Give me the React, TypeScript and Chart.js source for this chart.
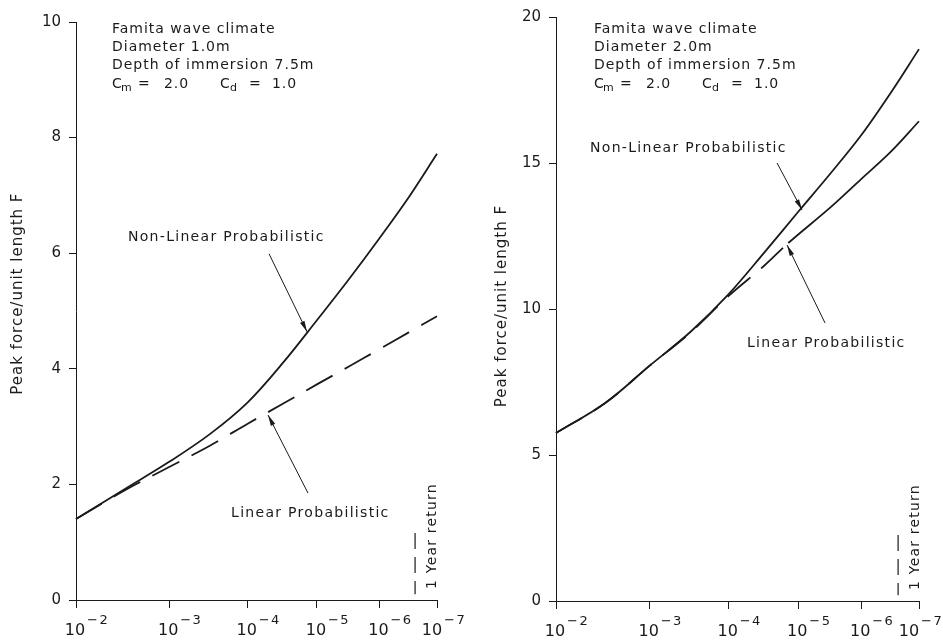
import React, { useEffect, useRef } from 'react';
import { Chart, registerables } from 'chart.js';

Chart.register(...registerables);

// Probability of exceedance p = 10^-k ; x axis is a Rayleigh probability scale (sqrt(-ln p))
const TICK_EXPONENTS = [2, 3, 4, 5, 6, 7];
const CURVE_EXPONENTS = [2, 2.5, 3, 3.5, 4, 4.5, 5, 5.5, 6, 6.5, 7];

const LEFT_NON_LINEAR = [1.4, 1.92, 2.39, 2.87, 3.42, 4.11, 4.84, 5.55, 6.26, 6.97, 7.72];
const LEFT_LINEAR = [1.4, 1.9, 2.3, 2.67, 3.05, 3.4, 3.73, 4.04, 4.34, 4.63, 4.91];

const RIGHT_NON_LINEAR = [5.75, 6.78, 8.06, 9.22, 10.51, 11.94, 13.33, 14.64, 15.95, 17.4, 18.9];
const RIGHT_LINEAR_EXPONENTS = [2, 2.5, 3, 3.5, 4, 4.5, 4.85, 5.5, 6, 6.5, 7];
const RIGHT_LINEAR = [5.75, 6.78, 8.06, 9.2, 10.45, 11.49, 12.26, 13.48, 14.45, 15.38, 16.43];

const LEFT_INFO = ['Famita wave climate', 'Diameter 1.0m', 'Depth of immersion 7.5m'];
const RIGHT_INFO = ['Famita wave climate', 'Diameter 2.0m', 'Depth of immersion 7.5m'];
const COEFF_CM = '2.0';
const COEFF_CD = '1.0';
const Y_TITLE = 'Peak force/unit length F';
const NL_LABEL = 'Non-Linear Probabilistic';
const L_LABEL = 'Linear Probabilistic';
const ONE_YEAR_LABEL = '1 Year return';

const FONT = '"DejaVu Sans", sans-serif';
const INK = '#1a1a1a';

const rx = (k: number) => Math.sqrt(k * Math.LN10);

type Pt = { k: number; v: number };

interface PanelSpec {
  width: number;
  pad: { top: number; right: number };
  yWidth: number;
  xHeight: number;
  yMax: number;
  yStep: number;
  nonLinear: number[];
  nonLinearK: number[];
  linear: number[];
  linearK: number[];
  dashUntilK: number;
  info: string[];
  infoAt: Pt;
  nlLabelAt: Pt;
  nlArrow: [Pt, Pt];
  lLabelAt: Pt;
  lArrow: [Pt, Pt];
  oneYear: { k: number; from: number; to: number };
  titleOffset: number;
  titleCenter: number;
  lastLabelShift: number;
}

const LEFT: PanelSpec = {
  width: 471,
  pad: { top: 22, right: 34 },
  yWidth: 76,
  xHeight: 42,
  yMax: 10,
  yStep: 2,
  nonLinear: LEFT_NON_LINEAR,
  nonLinearK: CURVE_EXPONENTS,
  linear: LEFT_LINEAR,
  linearK: CURVE_EXPONENTS,
  dashUntilK: 7,
  info: LEFT_INFO,
  infoAt: { k: 2.362, v: 9.88 },
  nlLabelAt: { k: 2.533, v: 6.28 },
  nlArrow: [{ k: 4.296, v: 5.99 }, { k: 4.851, v: 4.64 }],
  lLabelAt: { k: 3.776, v: 1.505 },
  lArrow: [{ k: 4.865, v: 1.85 }, { k: 4.282, v: 3.2 }],
  oneYear: { k: 6.61, from: 0.1, to: 1.16 },
  titleOffset: 58,
  titleCenter: 5.3,
  lastLabelShift: -4,
};

const RIGHT: PanelSpec = {
  width: 472,
  pad: { top: 17, right: 24 },
  yWidth: 85,
  xHeight: 41,
  yMax: 20,
  yStep: 5,
  nonLinear: RIGHT_NON_LINEAR,
  nonLinearK: CURVE_EXPONENTS,
  linear: RIGHT_LINEAR,
  linearK: RIGHT_LINEAR_EXPONENTS,
  dashUntilK: 4.85,
  info: RIGHT_INFO,
  infoAt: { k: 2.381, v: 19.59 },
  nlLabelAt: { k: 2.34, v: 15.51 },
  nlArrow: [{ k: 4.684, v: 15.0 }, { k: 5.058, v: 13.39 }],
  lLabelAt: { k: 4.253, v: 8.84 },
  lArrow: [{ k: 5.415, v: 9.52 }, { k: 4.832, v: 12.19 }],
  oneYear: { k: 6.63, from: 0.2, to: 2.26 },
  titleOffset: 54,
  titleCenter: 10.1,
  lastLabelShift: -9,
};

function setText(ctx: CanvasRenderingContext2D, size: number, spacing: number) {
  ctx.font = `${size}px ${FONT}`;
  (ctx as any).letterSpacing = `${spacing}px`;
}

function arrow(ctx: CanvasRenderingContext2D, x0: number, y0: number, x1: number, y1: number) {
  ctx.beginPath();
  ctx.moveTo(x0, y0);
  ctx.lineTo(x1, y1);
  ctx.lineWidth = 1;
  ctx.stroke();
  const a = Math.atan2(y1 - y0, x1 - x0);
  const L = 11;
  const W = 2.4;
  ctx.beginPath();
  ctx.moveTo(x1, y1);
  ctx.lineTo(x1 - L * Math.cos(a) + W * Math.sin(a), y1 - L * Math.sin(a) - W * Math.cos(a));
  ctx.lineTo(x1 - L * Math.cos(a) - W * Math.sin(a), y1 - L * Math.sin(a) + W * Math.cos(a));
  ctx.closePath();
  ctx.fill();
}

function makeDecor(spec: PanelSpec) {
  return {
    id: 'decor',
    afterDraw(chart: any) {
      const { ctx, chartArea, scales } = chart;
      const xs = scales.x;
      const ys = scales.y;
      const P = (p: Pt): [number, number] => [xs.getPixelForValue(rx(p.k)), ys.getPixelForValue(p.v)];
      ctx.save();
      ctx.fillStyle = INK;
      ctx.strokeStyle = INK;

      // x tick labels 10^-k
      TICK_EXPONENTS.forEach((k, i) => {
        const shift = i === TICK_EXPONENTS.length - 1 ? spec.lastLabelShift : 0;
        const x = xs.getPixelForValue(rx(k)) + shift;
        setText(ctx, 16, 0);
        ctx.textAlign = 'center';
        ctx.textBaseline = 'alphabetic';
        ctx.fillText('10', x - 1, chartArea.bottom + 34.5);
        setText(ctx, 13, 1.5);
        ctx.textAlign = 'left';
        ctx.fillText('\u2212' + String(k), x + 11, chartArea.bottom + 23.5);
      });

      // y title
      ctx.save();
      ctx.translate(chartArea.left - spec.titleOffset, ys.getPixelForValue(spec.titleCenter));
      ctx.rotate(-Math.PI / 2);
      setText(ctx, 15, 1);
      ctx.textAlign = 'center';
      ctx.textBaseline = 'middle';
      ctx.fillText(Y_TITLE, 0, 0);
      ctx.restore();

      // info block
      const [ix, iy] = P(spec.infoAt);
      const lh = 18.4;
      setText(ctx, 14, 1);
      ctx.textAlign = 'left';
      ctx.textBaseline = 'middle';
      spec.info.forEach((s, i) => ctx.fillText(s, ix, iy + i * lh));
      const cy = iy + 3 * lh;
      setText(ctx, 14, 1);
      ctx.fillText('C', ix, cy);
      ctx.fillText('=', ix + 26, cy);
      ctx.fillText(COEFF_CM, ix + 52, cy);
      ctx.fillText('C', ix + 108, cy);
      ctx.fillText('=', ix + 137, cy);
      ctx.fillText(COEFF_CD, ix + 160, cy);
      setText(ctx, 11, 1);
      ctx.fillText('m', ix + 9, cy + 4);
      ctx.fillText('d', ix + 118, cy + 4);

      // labels
      setText(ctx, 14, 1.3);
      const [nx, ny] = P(spec.nlLabelAt);
      ctx.fillText(NL_LABEL, nx, ny);
      const [lx, ly] = P(spec.lLabelAt);
      ctx.fillText(L_LABEL, lx, ly);

      // arrows
      const [a0x, a0y] = P(spec.nlArrow[0]);
      const [a1x, a1y] = P(spec.nlArrow[1]);
      arrow(ctx, a0x, a0y, a1x, a1y);
      const [b0x, b0y] = P(spec.lArrow[0]);
      const [b1x, b1y] = P(spec.lArrow[1]);
      arrow(ctx, b0x, b0y, b1x, b1y);

      // 1 year return marker
      const ox = xs.getPixelForValue(rx(spec.oneYear.k));
      ctx.beginPath();
      ctx.setLineDash([16, 8]);
      ctx.lineWidth = 1.2;
      ctx.moveTo(ox, ys.getPixelForValue(spec.oneYear.to));
      ctx.lineTo(ox, ys.getPixelForValue(spec.oneYear.from));
      ctx.stroke();
      ctx.setLineDash([]);
      ctx.save();
      ctx.translate(ox + 17, chartArea.bottom - 11);
      ctx.rotate(-Math.PI / 2);
      setText(ctx, 14, 1.2);
      ctx.textAlign = 'left';
      ctx.textBaseline = 'middle';
      ctx.fillText(ONE_YEAR_LABEL, 0, 0);
      ctx.restore();

      (ctx as any).letterSpacing = '0px';
      ctx.restore();
    },
  };
}

function Panel({ spec, left }: { spec: PanelSpec; left: number }) {
  const ref = useRef<HTMLCanvasElement | null>(null);
  useEffect(() => {
    if (!ref.current) return;
    const dashLimit = rx(spec.dashUntilK) + 1e-9;
    const chart = new Chart(ref.current, {
      type: 'line',
      data: {
        datasets: [
          {
            label: L_LABEL,
            data: spec.linearK.map((k, i) => ({ x: rx(k), y: spec.linear[i] })),
            borderColor: INK,
            borderWidth: 1.8,
            borderDash: [30, 14],
            pointRadius: 0,
            tension: 0.35,
            fill: false,
            clip: 6,
            segment: {
              borderDash: (c: any) => (c.p1.parsed.x <= dashLimit ? [30, 14] : []),
            },
          } as any,
          {
            label: NL_LABEL,
            data: spec.nonLinearK.map((k, i) => ({ x: rx(k), y: spec.nonLinear[i] })),
            borderColor: INK,
            borderWidth: 1.8,
            pointRadius: 0,
            tension: 0.35,
            fill: false,
            clip: 6,
          } as any,
        ],
      },
      options: {
        animation: false,
        responsive: false,
        devicePixelRatio: 1,
        layout: { padding: { left: 0, top: spec.pad.top, right: spec.pad.right, bottom: 0 } },
        plugins: { legend: { display: false }, tooltip: { enabled: false }, title: { display: false } },
        scales: {
          x: {
            type: 'linear',
            min: rx(2),
            max: rx(7),
            afterBuildTicks: (s: any) => {
              s.ticks = TICK_EXPONENTS.map((k) => ({ value: rx(k) }));
            },
            afterFit: (s: any) => {
              s.height = spec.xHeight;
            },
            ticks: { display: false },
            grid: { drawOnChartArea: false, drawTicks: true, tickLength: 8, color: INK, lineWidth: 1 },
            border: { display: true, color: INK, width: 1 },
          },
          y: {
            type: 'linear',
            min: 0,
            max: spec.yMax,
            afterFit: (s: any) => {
              s.width = spec.yWidth;
            },
            ticks: {
              stepSize: spec.yStep,
              color: INK,
              padding: 8,
              font: { family: FONT, size: 15 },
            },
            grid: { drawOnChartArea: false, drawTicks: true, tickLength: 7, color: INK, lineWidth: 1 },
            border: { display: true, color: INK, width: 1 },
          },
        },
      } as any,
      plugins: [makeDecor(spec)],
    });
    return () => chart.destroy();
  }, [spec]);
  return (
    <canvas
      ref={ref}
      width={spec.width}
      height={642}
      style={{ position: 'absolute', left, top: 0, width: spec.width, height: 642, display: 'block' }}
    />
  );
}

export default function App() {
  return (
    <div style={{ position: 'absolute', left: 0, top: 0, width: 943, height: 642, background: '#fff', overflow: 'hidden' }}>
      <Panel spec={LEFT} left={0} />
      <Panel spec={RIGHT} left={471} />
    </div>
  );
}
